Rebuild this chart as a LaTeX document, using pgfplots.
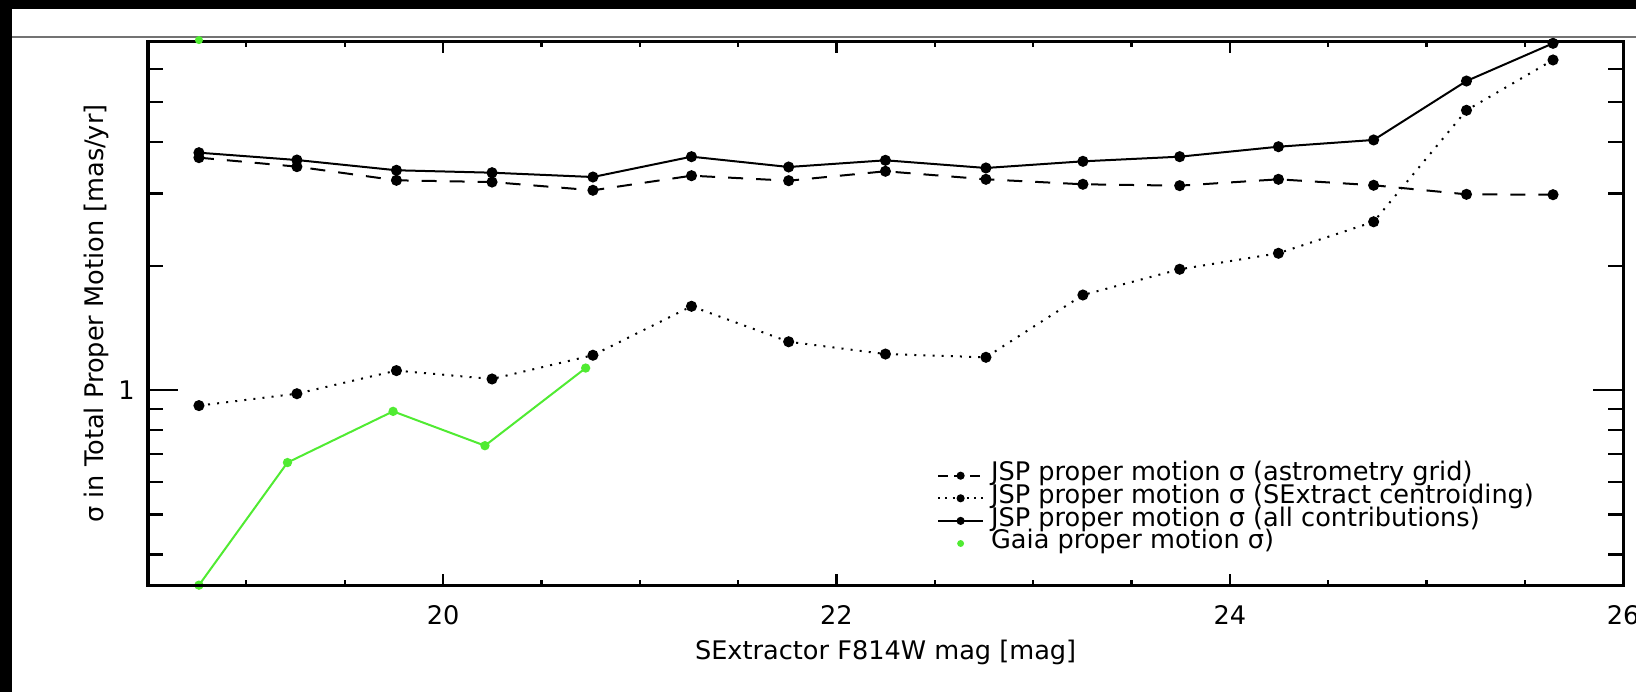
\documentclass[border=0pt]{standalone}
\usepackage{pgfplots}
\usepackage{pgfplotstable}
\pgfplotsset{compat=1.18}
\usepackage{fontspec}
\setmainfont{DejaVu Sans}
\definecolor{gaiagreen}{RGB}{80,235,50}
\newcommand{\lblfont}{\fontsize{12.8bp}{15bp}\selectfont}

\pgfplotstableread{
x y
18.759 3.663
19.257 3.484
19.763 3.228
20.249 3.197
20.762 3.053
21.263 3.312
21.757 3.221
22.249 3.395
22.760 3.246
23.253 3.157
23.745 3.133
24.247 3.246
24.731 3.140
25.203 2.985
25.643 2.979
}\gridtab

\pgfplotstableread{
x y
18.759 0.918
19.257 0.981
19.763 1.116
20.249 1.065
20.762 1.216
21.263 1.598
21.757 1.311
22.249 1.224
22.760 1.202
23.253 1.702
23.745 1.965
24.247 2.148
24.731 2.561
25.203 4.771
25.643 6.318
}\centtab

\pgfplotstableread{
x y
18.759 3.766
19.257 3.615
19.763 3.414
20.249 3.368
20.762 3.288
21.263 3.683
21.757 3.477
22.249 3.609
22.760 3.458
23.253 3.589
23.745 3.683
24.247 3.894
24.731 4.043
25.203 5.618
25.643 6.934
}\alltab

\pgfplotstableread{
x y
18.759 0.337
19.209 0.668
19.746 0.889
20.213 0.734
20.725 1.132
}\gaiatab

\begin{document}
\begin{tikzpicture}[x=0.5bp,y=0.5bp]
\clip (0,0) rectangle (1636,692);
\fill[white] (0,0) rectangle (1636,692);
\fill[black] (0,683) rectangle (1636,692);
\fill[black] (0,0) rectangle (12,692);
\draw[black!55, line width=0.6bp] (12,655) -- (1636,655);

\begin{axis}[
  at={(74bp,53.25bp)}, anchor=south west,
  scale only axis, width=737.6bp, height=272bp,
  xmin=18.5, xmax=26, ymode=log, ymin=0.3364, ymax=7.005,
  axis line style={line width=1.75bp, black},
  tick style={line width=1.1bp, black},
  tick align=inside,
  xtick={20,22,24,26}, xticklabels={20,22,24,26},
  minor xtick={18.5,19,19.5,20.5,21,21.5,22.5,23,23.5,24.5,25,25.5},
  major tick length=6bp, minor tick length=3bp,
  ytick=\empty, yminorticks=false,
  xticklabel style={font=\lblfont, inner sep=0pt, anchor=north, yshift=-9.6bp},
  xlabel={SExtractor F814W mag [mag]},
  xlabel style={font=\lblfont, inner sep=0pt, at={(axis description cs:0.5,-0.1002)}, anchor=north},
  ylabel={σ in Total Proper Motion [mas/yr]},
  ylabel style={font=\lblfont, inner sep=0pt, at={(axis description cs:-0.03525,0.5)}, anchor=center},
  legend cell align=left,
  legend style={at={(axis description cs:0.5349,0.2226)}, anchor=north west,
    draw=none, fill=none, inner sep=0pt, outer sep=0pt,
    row sep=0pt, column sep=3.5bp, font=\lblfont,
    nodes={inner sep=0pt, text height=8.3bp, text depth=3bp}},
  legend image code/.code={\draw[mark repeat=2,mark phase=2,#1] plot coordinates {(0bp,0bp) (11.25bp,0bp) (22.5bp,0bp)};},
]
\addlegendimage{black, line width=1bp, dash pattern=on 5bp off 3bp, mark=*, mark size=1.5bp, mark options={solid}}
\addlegendentry{JSP proper motion σ (astrometry grid)}
\addlegendimage{black, line width=1bp, dash pattern=on 1bp off 2.6bp, mark=*, mark size=1.5bp, mark options={solid}}
\addlegendentry{JSP proper motion σ (SExtract centroiding)}
\addlegendimage{black, line width=1bp, mark=*, mark size=1.5bp}
\addlegendentry{JSP proper motion σ (all contributions)}
\addlegendimage{only marks, gaiagreen, mark=*, mark size=1.5bp}
\addlegendentry{Gaia proper motion σ)}

\addplot[forget plot, black, line width=1bp, dash pattern=on 7.5bp off 6.5bp, mark=*, mark size=2.25bp, mark options={solid}] table {\gridtab};
\addplot[forget plot, black, line width=1bp, dash pattern=on 1bp off 3.57bp, mark=*, mark size=2.25bp, mark options={solid}] table {\centtab};
\addplot[forget plot, black, line width=1bp, mark=*, mark size=2.25bp] table {\alltab};
\addplot[forget plot, gaiagreen, line width=1bp, mark=*, mark size=1.8bp] table {\gaiatab};
\end{axis}

\begin{axis}[
  at={(74bp,53.25bp)}, anchor=south west,
  scale only axis, width=737.6bp, height=272bp,
  xmin=18.5, xmax=26, ymode=log, ymin=0.3364, ymax=7.005,
  axis line style={line width=1.75bp, black},
  tick style={line width=1.1bp, black},
  tick align=inside, clip=false,
  xtick=\empty, xminorticks=false,
  ytick={1}, yticklabels={1},
  minor ytick={0.4,0.5,0.6,0.7,0.8,0.9,2,3,4,5,6,7},
  major tick length=15bp, minor tick length=7.5bp,
  yticklabel style={font=\lblfont, inner sep=0pt, anchor=east, xshift=-6.5bp},
]
\addplot[forget plot, gaiagreen, only marks, mark=*, mark size=1.8bp] coordinates {(18.759,7.06)};
\end{axis}
\end{tikzpicture}
\end{document}
